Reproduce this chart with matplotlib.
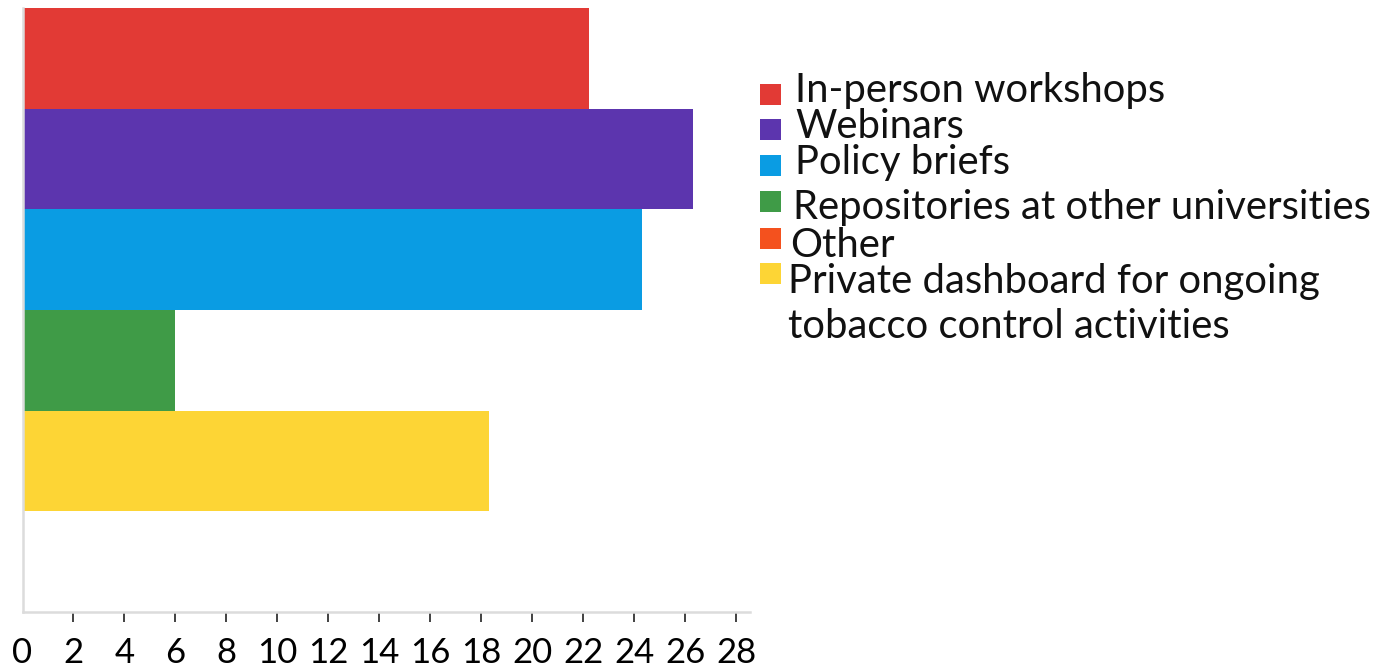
import matplotlib
matplotlib.use("Agg")
import matplotlib.pyplot as plt
from matplotlib.patches import Rectangle

# ---- data ----
categories = ["In-person workshops", "Webinars", "Policy briefs",
              "Repositories at other universities", "Other",
              "Private dashboard for ongoing\ntobacco control activities"]
values = [22.2, 26.3, 24.3, 6.0, 0, 18.3]
colors = ["#E23A35", "#5C35AE", "#0A9CE3", "#3F9B47", "#F4511E", "#FDD535"]
# order of bars from top to bottom (indices into categories)
bar_order = [0, 1, 2, 3, 5, 4]
xticks = list(range(0, 29, 2))

W, H = 1398, 670
fig = plt.figure(figsize=(W / 100, H / 100), dpi=100)
ax_left, ax_right, ax_top, ax_bot = 22.5, 750, 8, 612
ax = fig.add_axes([ax_left / W, 1 - ax_bot / H, (ax_right - ax_left) / W, (ax_bot - ax_top) / H])

n = len(bar_order)
for slot, idx in enumerate(bar_order):
    ax.barh(n - 1 - slot, values[idx], height=1.0, color=colors[idx], edgecolor="none")

ax.set_ylim(-0.5, n - 0.5)
ax.set_xlim(0, 28.53)
ax.set_yticks([])
ax.set_xticks(xticks)
ax.set_xticklabels([str(t) for t in xticks], fontfamily="Lato", fontsize=25)
ax.tick_params(axis="x", direction="out", length=7, width=1.3, color="#333333", pad=11)
ax.xaxis.get_major_ticks()[0].tick1line.set_visible(False)
for s in ["top", "right"]:
    ax.spines[s].set_visible(False)
for s in ["left", "bottom"]:
    ax.spines[s].set_color("#dcdcdc")
    ax.spines[s].set_linewidth(1.8)

# ---- legend (manual) ----
sq_tops = [84, 119, 155, 191, 228, 263]
baselines = [102, 138, 174, 219, 257, 293]
line_gap = 45
text_x = [795, 795, 795, 793, 790, 788]
for i, lab in enumerate(categories):
    fig.add_artist(Rectangle((760 / W, 1 - (sq_tops[i] + 21) / H), 21 / W, 21 / H,
                             transform=fig.transFigure, color=colors[i], lw=0))
    for j, line in enumerate(lab.split("\n")):
        fig.text(text_x[i] / W, 1 - (baselines[i] + j * line_gap) / H, line,
                 fontfamily="Lato", fontsize=28.8, va="baseline", ha="left",
                 color="#111111")

fig.savefig("out.png", dpi=100)
